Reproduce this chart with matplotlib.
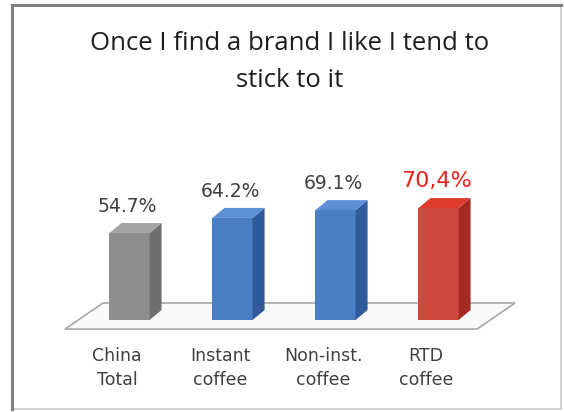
import matplotlib.pyplot as plt
from matplotlib.patches import Polygon, Rectangle

# data
categories = ["China\nTotal", "Instant\ncoffee", "Non-inst.\ncoffee", "RTD\ncoffee"]
values = [54.7, 64.2, 69.1, 70.4]
value_labels = ["54.7%", "64.2%", "69.1%", "70,4%"]
title = "Once I find a brand I like I tend to\nstick to it"

# colours per bar: front, side, top
front_cols = ["#8e8e8e", "#4a7dc2", "#4a7dc2", "#cf4a3e"]
side_cols = ["#6f6f6f", "#2f5a9c", "#2f5a9c", "#a52a24"]
top_cols = ["#a4a4a4", "#5e90d6", "#5e90d6", "#de3b30"]
label_cols = ["#404040", "#404040", "#404040", "#e8231f"]
label_sizes = [13.5, 13.5, 13.5, 16]

W, H = 564, 412
fig = plt.figure(figsize=(W / 100, H / 100), dpi=100)
ax = fig.add_axes([0, 0, 1, 1])

# pixel scale: bar i centred at 129.5 + 103*i, value 0 at y=320, 1.59 px per %
px_x, px_y = 103.0, 1.59
ax.set_xlim(-129.5 / px_x, (W - 129.5) / px_x)
ax.set_ylim(-(H - 320) / px_y, 320 / px_y)
ax.axis("off")

width = 0.39
dx, dy = 12 / px_x, 10 / px_y  # bar depth

# floor
f_l, f_r = -0.626, 3.374
f_front, f_back = -5.7, 10.7
f_dx = 38 / px_x
floor = Polygon([(f_l, f_front), (f_r, f_front), (f_r + f_dx, f_back), (f_l + f_dx, f_back)],
                closed=True, facecolor="#fafafa", edgecolor="#a8a8a8", lw=1.2, zorder=1)
ax.add_patch(floor)

for i, v in enumerate(values):
    x0 = i - width / 2
    x1 = i + width / 2
    ax.bar(i, v, width=width, color=front_cols[i], zorder=3)
    side = Polygon([(x1, 0), (x1 + dx, dy), (x1 + dx, v + dy), (x1, v)],
                   closed=True, facecolor=side_cols[i], edgecolor="none", zorder=3)
    top = Polygon([(x0, v), (x1, v), (x1 + dx, v + dy), (x0 + dx, v + dy)],
                  closed=True, facecolor=top_cols[i], edgecolor="none", zorder=3)
    ax.add_patch(side)
    ax.add_patch(top)
    ax.text(i - 0.02, v + dy + 4.5, value_labels[i], ha="center", va="bottom",
            fontsize=label_sizes[i], color=label_cols[i], family="DejaVu Sans")
    ax.text(i - 0.12, -17, categories[i], ha="center", va="top", fontsize=12.5,
            color="#404040", linespacing=1.45, family="DejaVu Sans")

fig.text(290 / W, 1 - 31 / H, title, ha="center", va="top", fontsize=18.5,
         color="#1e1e1e", family="Open Sans", linespacing=1.65)

# frame round the chart
frame = Rectangle((12 / W, 3 / H), 549 / W, 404 / H, transform=fig.transFigure,
                  fill=False, edgecolor="#c8c8c8", lw=1.2)
fig.patches.append(frame)
fig.add_artist(plt.Line2D([12 / W, 12 / W], [3 / H, 1 - 5 / H], color="#808080", lw=2.2))
fig.add_artist(plt.Line2D([12 / W, 561 / W], [1 - 5 / H, 1 - 5 / H], color="#808080", lw=2.2))

fig.savefig("out.png", dpi=100)
